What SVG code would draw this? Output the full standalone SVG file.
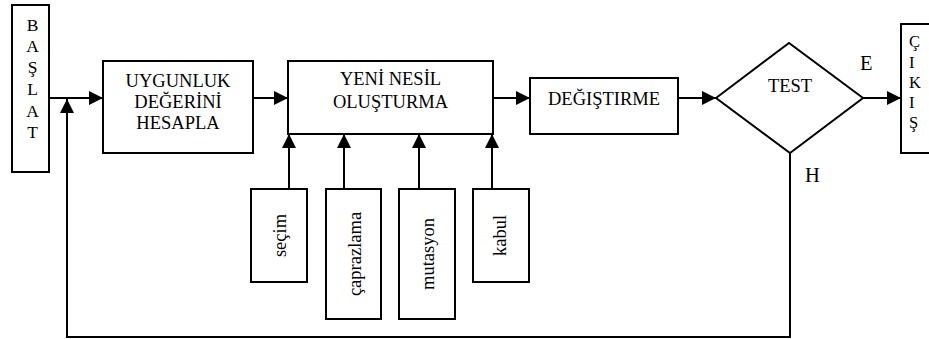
<svg xmlns="http://www.w3.org/2000/svg" width="929" height="339" viewBox="0 0 929 339" font-family="'Liberation Serif', 'Times New Roman', Times, serif">
<defs>
<style>
.box{fill:#fff;stroke:#000;stroke-width:2}
.ln{fill:none;stroke:#000;stroke-width:2}
.t{font-family:'Liberation Serif',serif;font-size:18.5px;text-anchor:middle;fill:#000}
.v{font-family:'Liberation Serif',serif;font-size:17.5px;text-anchor:middle;fill:#000}
.c{font-family:'Liberation Serif',serif;font-size:16.5px;fill:#000}
.lab{font-family:'Liberation Serif',serif;font-size:20.5px;fill:#000}
</style>
<marker id="ah" viewBox="0 0 14 14" refX="14" refY="7" markerWidth="14" markerHeight="14" markerUnits="userSpaceOnUse" orient="auto">
<path d="M0,0 L14,7 L0,14 Z" fill="#000"/>
</marker>
</defs>
<rect width="929" height="339" fill="#fff"/>
<g id="connectors">
<line class="ln" x1="49" y1="98" x2="103" y2="98" marker-end="url(#ah)"/>
<polyline class="ln" points="790,153 790,337 67,337 67,99" marker-end="url(#ah)"/>
<line class="ln" x1="253" y1="98" x2="288" y2="98" marker-end="url(#ah)"/>
<line class="ln" x1="493" y1="98" x2="530" y2="98" marker-end="url(#ah)"/>
<line class="ln" x1="678" y1="98" x2="716" y2="98" marker-end="url(#ah)"/>
<line class="ln" x1="863" y1="98" x2="901" y2="98" marker-end="url(#ah)"/>
<line class="ln" x1="289" y1="189" x2="289" y2="134" marker-end="url(#ah)"/>
<line class="ln" x1="344" y1="189" x2="344" y2="134" marker-end="url(#ah)"/>
<line class="ln" x1="419" y1="189" x2="419" y2="134" marker-end="url(#ah)"/>
<line class="ln" x1="492" y1="189" x2="492" y2="134" marker-end="url(#ah)"/>
</g>
<g id="baslat">
<rect class="box" x="12" y="5" width="37" height="167"/>
<text class="v" x="32.5" y="31">B</text>
<text class="v" x="32.5" y="52">A</text>
<text class="v" x="32.5" y="73">Ş</text>
<text class="v" x="32.5" y="95">L</text>
<text class="v" x="32.5" y="117">A</text>
<text class="v" x="32.5" y="138">T</text>
</g>
<g id="uygunluk">
<rect class="box" x="103" y="61" width="150" height="92"/>
<text class="t" x="178" y="86.5">UYGUNLUK</text>
<text class="t" x="178" y="108">DEĞERİNİ</text>
<text class="t" x="178" y="129">HESAPLA</text>
</g>
<g id="yeninesil">
<rect class="box" x="288" y="61" width="205" height="73"/>
<text class="t" x="390.5" y="85">YENİ NESİL</text>
<text class="t" x="390.5" y="108">OLUŞTURMA</text>
</g>
<g id="degistirme">
<rect class="box" x="530" y="78" width="148" height="56"/>
<text class="t" x="604" y="105">DEĞIŞTIRME</text>
</g>
<g id="test">
<polygon class="box" points="716,98 789,43 863,98 790,153"/>
<text class="t" x="790" y="91.5">TEST</text>
</g>
<g id="labels">
<text class="lab" x="860" y="70">E</text>
<text class="lab" x="805" y="181.5">H</text>
</g>
<g id="cikis">
<rect class="box" x="901" y="24" width="40" height="129"/>
<text class="c" x="909" y="47">Ç</text>
<text class="c" x="909" y="68">I</text>
<text class="c" x="909" y="88">K</text>
<text class="c" x="909" y="108">I</text>
<text class="c" x="909" y="128">Ş</text>
</g>
<g id="secim">
<rect class="box" x="251" y="189" width="56" height="93"/>
<text class="t" transform="translate(286,235.5) rotate(-90)">seçim</text>
</g>
<g id="caprazlama">
<rect class="box" x="326" y="189" width="55" height="130"/>
<text class="t" transform="translate(360.5,254) rotate(-90)">çaprazlama</text>
</g>
<g id="mutasyon">
<rect class="box" x="399" y="189" width="56" height="130"/>
<text class="t" transform="translate(433.5,254) rotate(-90)">mutasyon</text>
</g>
<g id="kabul">
<rect class="box" x="473" y="189" width="56" height="93"/>
<text class="t" transform="translate(506,235.5) rotate(-90)">kabul</text>
</g>
</svg>
